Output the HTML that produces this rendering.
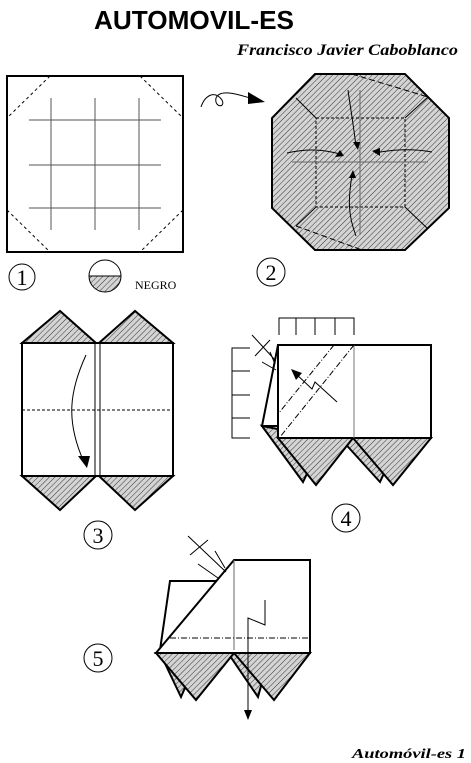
<!DOCTYPE html>
<html><head><meta charset="utf-8"><style>
body{margin:0;background:#fff;}
svg{display:block;}
.s{font-family:"Liberation Sans",sans-serif;}
.r{font-family:"Liberation Serif",serif;}
</style></head><body>
<svg width="471" height="763" viewBox="0 0 471 763">
<defs>
<pattern id="h" patternUnits="userSpaceOnUse" width="4" height="4" patternTransform="rotate(45)">
<rect width="4" height="4" fill="#d4d4d4"/><line x1="0" y1="0" x2="0" y2="4" stroke="#333" stroke-width="1"/>
</pattern>
</defs>
<g fill="#000">
<text class="s" x="94" y="29" font-size="26" font-weight="bold" textLength="200" lengthAdjust="spacingAndGlyphs">AUTOMOVIL-ES</text>
<text class="r" x="237" y="55" font-size="16" font-weight="bold" font-style="italic" textLength="221" lengthAdjust="spacingAndGlyphs">Francisco Javier Caboblanco</text>
<text class="r" x="352" y="758" font-size="14" font-weight="bold" font-style="italic" textLength="114" lengthAdjust="spacingAndGlyphs">Automóvil-es 1</text>
</g>
<g stroke="#000" fill="none">
<rect x="7" y="76" width="176" height="176" stroke-width="2"/>
<g stroke-dasharray="3,3" stroke-width="1"><line x1="50" y1="76" x2="7" y2="118"/><line x1="140" y1="76" x2="183" y2="118"/><line x1="7" y1="210" x2="50" y2="252"/><line x1="183" y1="210" x2="140" y2="252"/></g>
<g stroke="#555" stroke-width="1"><line x1="51" y1="98" x2="51" y2="230"/><line x1="95" y1="98" x2="95" y2="230"/><line x1="139" y1="98" x2="139" y2="230"/>
<line x1="29" y1="120" x2="161" y2="120"/><line x1="29" y1="165" x2="161" y2="165"/><line x1="29" y1="208" x2="161" y2="208"/></g>
</g>
<g><circle cx="22" cy="277" r="13" fill="none" stroke="#000"/><text class="r" x="22" y="285" font-size="22" text-anchor="middle">1</text></g>
<g>
<path d="M89 276 H121 A16 16 0 0 1 89 276Z" fill="url(#h)"/>
<circle cx="105" cy="276" r="16" fill="none" stroke="#000"/><line x1="89" y1="276" x2="121" y2="276" stroke="#000"/>
<text class="r" x="135" y="289" font-size="12">NEGRO</text></g>
<g><path d="M201 107 C205 95 215 90 222 100 C226 108 214 108 216 98 C220 88 240 95 250 98" fill="none" stroke="#000"/><polygon points="248,92 265,102 248,104" fill="#000"/></g>
<g stroke="#000">
<polygon points="315,74 405,74 449,118 449,208 405,250 315,250 272,208 272,118" fill="url(#h)" stroke-width="2"/>
<rect x="316" y="118" width="89" height="89" fill="none" stroke-dasharray="3,2" stroke-width="1"/>
<g fill="none" stroke-width="1"><line x1="316" y1="118" x2="296" y2="98"/><line x1="405" y1="118" x2="428" y2="97"/><line x1="316" y1="207" x2="296" y2="226"/><line x1="405" y1="207" x2="427" y2="228"/>
<line x1="352" y1="74" x2="428" y2="97" stroke-dasharray="6,3"/><line x1="296" y1="226" x2="362" y2="250" stroke-dasharray="6,3"/>
<line x1="360" y1="90" x2="360" y2="235" stroke="#666"/><line x1="292" y1="162" x2="428" y2="162" stroke="#666"/>
<path d="M287 153 C310 148 325 150 340 154"/><path d="M432 152 C410 148 390 150 375 153"/><path d="M348 90 C350 105 352 115 356 146"/><path d="M356 236 C348 215 348 200 352 175"/></g>
<g fill="#000" stroke="none"><polygon points="340,150 344,156 335,157"/><polygon points="372,151 380,148 380,156"/><polygon points="353,142 360,142 358,150"/><polygon points="349,178 356,178 353,170"/></g>
</g>
<g><circle cx="271" cy="272" r="14" fill="none" stroke="#000"/><text class="r" x="271" y="280" font-size="22" text-anchor="middle">2</text></g>
<g stroke="#000" stroke-width="2">
<polygon points="22,343 60,311 96,343" fill="url(#h)"/><polygon points="99,343 135,311 173,343" fill="url(#h)"/>
<polygon points="22,476 60,510 96,476" fill="url(#h)"/><polygon points="99,476 135,510 173,476" fill="url(#h)"/>
<rect x="22" y="343" width="151" height="133" fill="#fff"/>
<g stroke-width="1"><line x1="95" y1="343" x2="95" y2="476"/><line x1="100" y1="343" x2="100" y2="476"/>
<line x1="22" y1="410" x2="173" y2="410" stroke-dasharray="3,2"/>
<path d="M86 355 C70 390 65 420 84 462" fill="none"/></g>
<polygon points="78,456 90,456 87,468" fill="#000" stroke="none"/>
</g>
<g><circle cx="98" cy="535" r="14" fill="none" stroke="#000"/><text class="r" x="98" y="543" font-size="22" text-anchor="middle">3</text></g>
<g stroke="#000">
<polygon points="262,426 303,482 324,438" fill="url(#h)" stroke-width="2"/>
<polygon points="340,438 380,482 400,438" fill="url(#h)" stroke-width="2"/>
<polygon points="278,438 316,485 353,438" fill="url(#h)" stroke-width="2"/>
<polygon points="353,438 393,485 431,438" fill="url(#h)" stroke-width="2"/>
<polygon points="278,345 262,426 278,426" fill="#fff" stroke-width="2"/>
<rect x="278" y="345" width="153" height="93" fill="#fff" stroke-width="2"/>
<g stroke-width="1" fill="none"><line x1="354" y1="345" x2="354" y2="438" stroke="#777"/>
<line x1="334" y1="345" x2="278" y2="414" stroke-dasharray="6,2,1,2"/><line x1="354" y1="345" x2="280" y2="437" stroke-dasharray="6,2,1,2"/>
<path d="M337 402 L315 382 L312 389 L294 372"/>
<path d="M279 335 V318 H354 V335 M296 318 V335 M315 318 V335 M335 318 V335"/>
<path d="M250 348 H232 V438 H250 M232 371 H250 M232 395 H250 M232 418 H250"/>
<path d="M252 335 L275 360 M255 356 L270 340 M262 362 L276 370 M270 352 L275 364"/></g>
<polygon points="291,369 302,373 296,380" fill="#000" stroke="none"/>
</g>
<g><circle cx="346" cy="518" r="14" fill="none" stroke="#000"/><text class="r" x="346" y="526" font-size="22" text-anchor="middle">4</text></g>
<g stroke="#000">
<polygon points="160,653 181,697 200,653" fill="url(#h)" stroke-width="2"/>
<polygon points="228,653 258,697 270,653" fill="url(#h)" stroke-width="2"/>
<polygon points="156,653 196,700 234,653" fill="url(#h)" stroke-width="2"/>
<polygon points="234,653 274,700 310,653" fill="url(#h)" stroke-width="2"/>
<polygon points="170,581 218,581 160,650" fill="#fff" stroke-width="2"/>
<polygon points="234,560 310,560 310,653 156,653" fill="#fff" stroke-width="2"/>
<g stroke-width="1" fill="none"><line x1="234" y1="560" x2="234" y2="650" stroke="#666"/>
<line x1="170" y1="638" x2="310" y2="638" stroke-dasharray="6,2,1,2"/><line x1="160" y1="653" x2="310" y2="653" stroke-dasharray="3,2"/>
<path d="M265 600 V625 L248 618 V712"/>
<path d="M188 536 L226 572 M190 555 L208 540 M198 564 L218 578 M215 551 L225 568"/></g>
<polygon points="244,710 252,710 248,720" fill="#000" stroke="none"/>
</g>
<g><circle cx="98" cy="658" r="14" fill="none" stroke="#000"/><text class="r" x="98" y="666" font-size="22" text-anchor="middle">5</text></g>
</svg>
</body></html>
